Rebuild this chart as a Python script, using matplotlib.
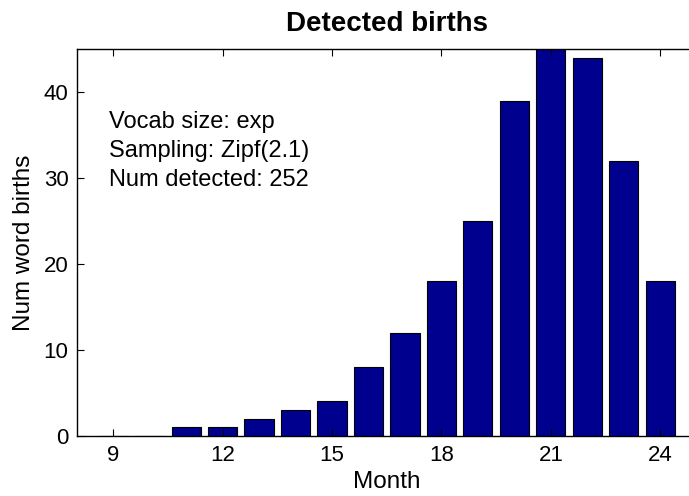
import numpy as np
import matplotlib
matplotlib.use("Agg")
from matplotlib import pyplot as plt

plt.rcParams['font.family'] = ['Liberation Sans', 'DejaVu Sans']

months = np.arange(9, 25)
births = [0, 0, 1, 1, 2, 3, 4, 8, 12, 18, 25, 39, 45, 44, 32, 18]
xticks = [9, 12, 15, 18, 21, 24]
yticks = [0, 10, 20, 30, 40]
info = ["Vocab size: exp", "Sampling: Zipf(2.1)", "Num detected: %d" % sum(births)]

W, H = 689, 496
fig = plt.figure(figsize=(W / 100, H / 100), dpi=100)
# axes run a little past the right edge, like the cropped original
left, right, top, bottom = 76.7, 696.7, 49, 435.7
ax = fig.add_axes([left / W, 1 - bottom / H, (right - left) / W, (bottom - top) / H])

ax.bar(months, births, width=0.8, color=(0, 0, 0.5625), edgecolor='black', linewidth=0.8)
ax.set_xlim(8, 25)
ax.set_ylim(0, 45)
ax.set_xticks(xticks)
ax.set_yticks(yticks)
ax.tick_params(direction='in', top=True, right=True, labelsize=16, length=5)
ax.tick_params(axis='x', pad=7)
ax.tick_params(axis='y', pad=6)
for s in ax.spines.values():
    s.set_linewidth(1.0)

ax.set_title("Detected births", fontsize=20, fontweight='bold', pad=13)
ax.set_xlabel("Month", fontsize=17.5, labelpad=3)
ax.set_ylabel("Num word births", fontsize=17.5, labelpad=6)

for i, line in enumerate(info):
    ax.text(8.89, 36.5 - 3.4 * i, line, fontsize=17, va='center', ha='left')

fig.savefig("out.png", dpi=100)
